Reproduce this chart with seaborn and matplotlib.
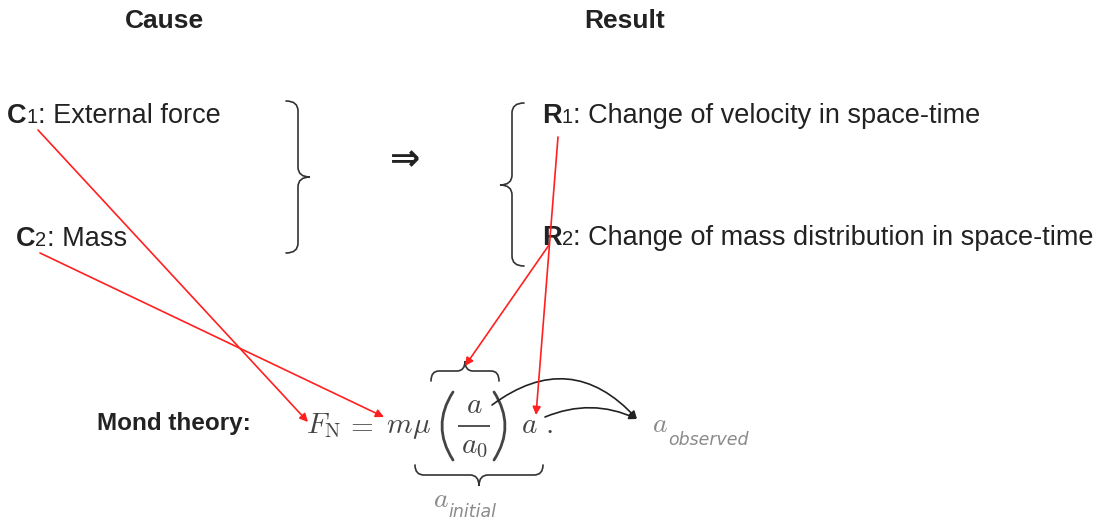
import matplotlib
matplotlib.use("Agg")
import matplotlib.pyplot as plt
import seaborn as sns
from matplotlib.path import Path
from matplotlib.patches import PathPatch, FancyArrowPatch

sns.set_theme(style="white")
plt.rcParams['font.family'] = ['Liberation Sans', 'DejaVu Sans']
plt.rcParams['mathtext.fontset'] = 'cm'

# ---------------- content ----------------
headers = ["Cause", "Result"]
header_x = [164, 625]

cause_letters = ["C", "C"]
cause_idx = ["1", "2"]
cause_text = [": External force", ": Mass"]
cause_pos = [(7, 123), (16, 246)]

result_letters = ["R", "R"]
result_idx = ["1", "2"]
result_text = [": Change of velocity in space-time",
               ": Change of mass distribution in space-time"]
result_pos = [(542, 123), (542, 245)]

implies_symbol = "\u21d2"
theory_label = "Mond theory:"
# formula pieces: (tex, x, baseline)
formula_terms = [r"$F_{\mathrm{N}}$", r"$=$", r"$m$", r"$\mu$", r"$a$", r"$.$"]
formula_x = [306, 345, 386, 412, 521, 545]
numerator = r"$a$"
denominator = r"$a_0$"
initial_sub = "initial"
observed_sub = "observed"

# red links: cause/result -> formula terms
red_start = [(38, 130), (40, 253), (549, 245), (558, 137)]
red_end = [(308, 422), (384, 417), (465, 366), (536, 415)]

# black curved links -> a_observed
black_start = [(492, 405), (545, 417)]
black_end = [(637, 419), (637, 419)]
black_rad = [-0.45, -0.22]

W, H = 1097, 523
fig = plt.figure(figsize=(W / 100, H / 100), dpi=100)
ax = fig.add_axes([0, 0, 1, 1])
ax.set_xlim(0, W)
ax.set_ylim(H, 0)
ax.set_axis_off()
sns.despine(ax=ax, left=True, bottom=True)

fig.canvas.draw()
rend = fig.canvas.get_renderer()
TXT = "#222222"
FS = 19.5


def rainbow(x, y, parts):
    for s, kw in parts:
        t = ax.text(x, y, s, va='baseline', ha='left', **kw)
        bb = t.get_window_extent(renderer=rend)
        x = ax.transData.inverted().transform((bb.x1, bb.y0))[0]


for h, hx in zip(headers, header_x):
    ax.text(hx, 28, h, ha='center', va='baseline', fontsize=19,
            fontweight='bold', color=TXT)

for L, i, s, (x, y) in zip(cause_letters + result_letters,
                           cause_idx + result_idx,
                           cause_text + result_text,
                           cause_pos + result_pos):
    rainbow(x, y, [(L, dict(fontsize=FS, fontweight='bold', color=TXT)),
                   (i, dict(fontsize=14.5, color=TXT)),
                   (s, dict(fontsize=FS, color=TXT))])

ax.text(405, 160, implies_symbol, ha='center', va='center', fontsize=26,
        fontweight='bold', family='DejaVu Sans', color=TXT)

ax.text(97, 430, theory_label, ha='left', va='baseline', fontsize=17.5,
        fontweight='bold', color=TXT)

# formula
FC = '#444444'
for tex, fx in zip(formula_terms, formula_x):
    ax.text(fx, 433, tex, ha='left', va='baseline', fontsize=21, color=FC)
ax.text(474, 413, numerator, ha='center', va='baseline', fontsize=21, color=FC)
ax.text(474, 453, denominator, ha='center', va='baseline', fontsize=21, color=FC)
ax.plot([458, 490], [426, 426], color=FC, lw=1.3, solid_capstyle='butt')
# tall parentheses
for (xe, xc) in [(453, 431), (494, 516)]:
    ax.add_patch(PathPatch(Path([(xe, 392), (xc, 426), (xe, 460)],
                                [Path.MOVETO, Path.CURVE3, Path.CURVE3]),
                           fill=False, lw=2.0, edgecolor=FC, capstyle='round'))

GR = '#8a8a8a'
ax.text(433, 507, r"$a$", ha='left', va='baseline', fontsize=20, color=GR)
ax.text(448, 517, initial_sub, ha='left', va='baseline', fontsize=12.5,
        style='italic', family='DejaVu Sans', color=GR)
ax.text(652, 432, r"$a$", ha='left', va='baseline', fontsize=20, color=GR)
ax.text(668, 445, observed_sub, ha='left', va='baseline', fontsize=12.5,
        style='italic', family='DejaVu Sans', color=GR)


# ---------------- braces ----------------
def vbrace(x_end, x_mid, x_tip, y_top, y_tip, y_bot, r):
    verts = [(x_end, y_top), (x_mid, y_top), (x_mid, y_top + r),
             (x_mid, y_tip - r), (x_mid, y_tip), (x_tip, y_tip),
             (x_mid, y_tip), (x_mid, y_tip + r),
             (x_mid, y_bot - r), (x_mid, y_bot), (x_end, y_bot)]
    return verts


def hbrace(y_end, y_mid, y_tip, x_l, x_tip, x_r, r):
    return [(x, y) for (y, x) in vbrace(y_end, y_mid, y_tip, x_l, x_tip, x_r, r)]


codes = [Path.MOVETO, Path.CURVE3, Path.CURVE3, Path.LINETO, Path.CURVE3,
         Path.CURVE3, Path.CURVE3, Path.CURVE3, Path.LINETO, Path.CURVE3,
         Path.CURVE3]
BR = '#333333'
for verts in [vbrace(286, 298, 310, 101, 177, 253, 10),
              vbrace(524, 512, 500, 103, 185, 266, 10),
              hbrace(381, 371, 361, 431, 465, 499, 8),
              hbrace(465, 475, 486, 415, 479, 543, 9)]:
    ax.add_patch(PathPatch(Path(verts, codes), fill=False, lw=1.2,
                           edgecolor=BR, capstyle='round'))

# ---------------- arrows ----------------
for s, e in zip(red_start, red_end):
    ax.annotate("", xy=e, xytext=s,
                arrowprops=dict(arrowstyle='-|>', color='#ff2020', lw=1.2,
                                mutation_scale=12, shrinkA=0, shrinkB=0))
for s, e, rad in zip(black_start, black_end, black_rad):
    ax.add_patch(FancyArrowPatch(s, e, connectionstyle=f"arc3,rad={rad}",
                                 arrowstyle='-|>', mutation_scale=11,
                                 color='#222222', lw=1.2, shrinkA=0, shrinkB=0))

fig.savefig("out.png", dpi=100)
